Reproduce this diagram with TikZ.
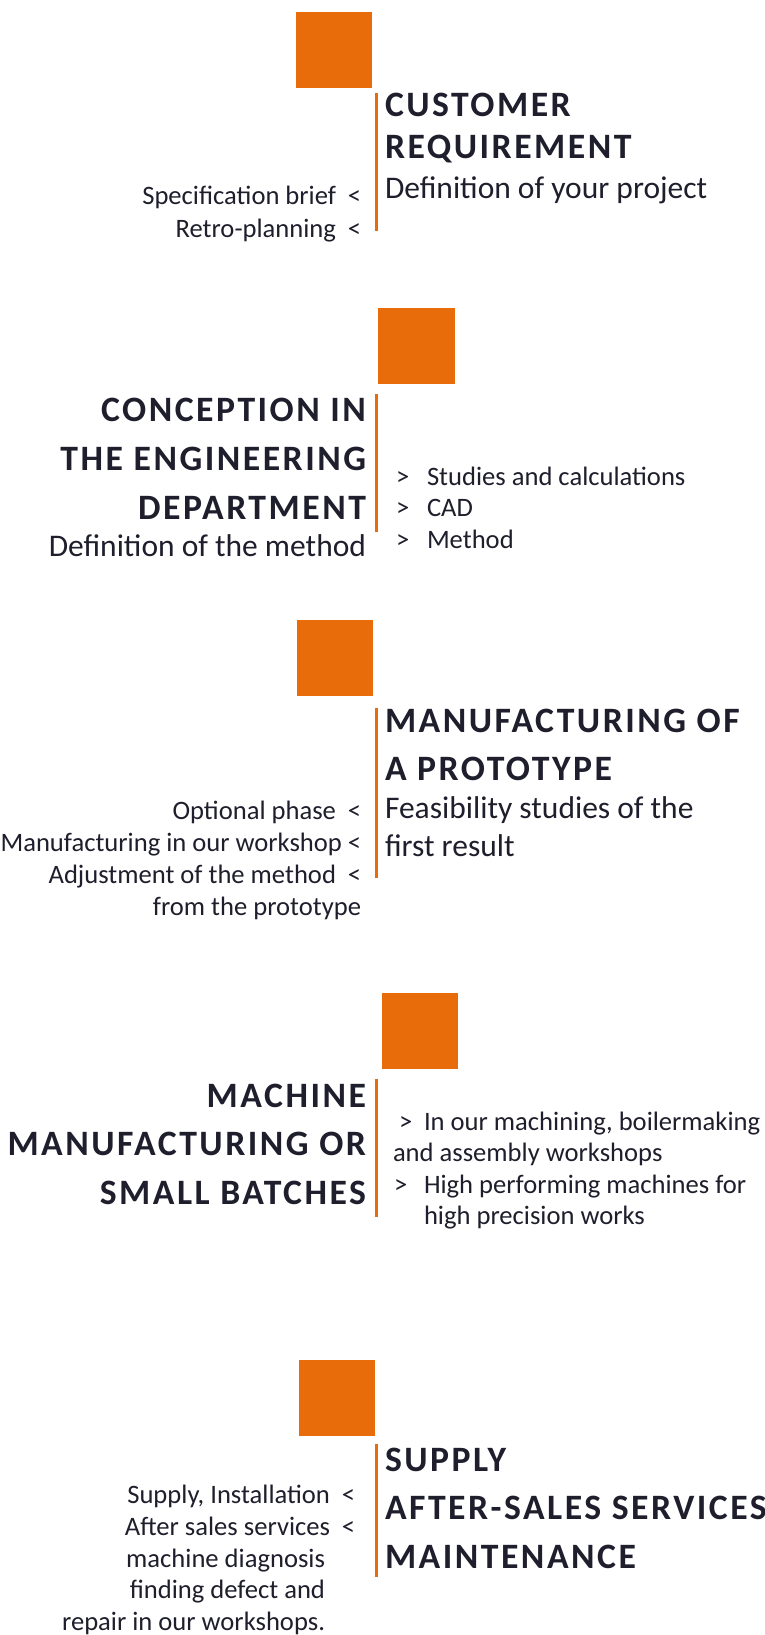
\documentclass[tikz,border=0pt]{standalone}
\usepackage{fontspec}
\setmainfont{Carlito}
\newfontfamily\headfam{Carlito}[LetterSpace=7]
\definecolor{accent}{RGB}{233,108,10}
\definecolor{ink}{RGB}{30,30,44}
\begin{document}
\begin{tikzpicture}[x=1pt,y=-1pt,
  every node/.style={inner sep=0pt,outer sep=0pt,text=ink},
  head/.style={font=\headfam\bfseries\fontsize{35.7}{42}\selectfont},
  sub/.style={font=\fontsize{31.5}{37}\selectfont},
  small/.style={font=\fontsize{26.6}{32}\selectfont},
  blockbox/.style={fill=accent,draw=none},
  bar/.style={draw=accent,line width=2.5pt}]
\useasboundingbox (0,0) rectangle (764,1635);

% ---------- 1 ----------
\fill[blockbox] (296,12) rectangle (372,88);
\coordinate (b1t) at (376.5,93); \coordinate (b1b) at (376.5,231);
\draw[bar] (b1t) -- (b1b);
\node[head,anchor=base west] (h1a) at (385,117) {CUSTOMER};
\node[head,anchor=base west] (h1b) at (385,158) {REQUIREMENT};
\node[sub,anchor=base west] (s1) at (385,198) {Definition of your project};
\node[small,anchor=base east] (l1a) at (336,204) {Specification brief};
\node[small,anchor=base east] (l1b) at (336,237) {Retro-planning};
\node[small,anchor=base east] (m1a) at (361,204) {<};
\node[small,anchor=base east] (m1b) at (361,237) {<};

% ---------- 2 ----------
\fill[blockbox] (378,308) rectangle (455,384);
\coordinate (b2t) at (376.5,394); \coordinate (b2b) at (376.5,532);
\draw[bar] (b2t) -- (b2b);
\node[head,anchor=base east] (h2a) at (366,421) {CONCEPTION IN};
\node[head,anchor=base east] (h2b) at (366,470) {THE ENGINEERING};
\node[head,anchor=base east] (h2c) at (366,519) {DEPARTMENT};
\node[sub,anchor=base east] (s2) at (366,556) {Definition of the method};
\node[small,anchor=base west] (m2a) at (396,485) {>};
\node[small,anchor=base west] (m2b) at (396,516) {>};
\node[small,anchor=base west] (m2c) at (396,548) {>};
\node[small,anchor=base west] (r2a) at (427,485) {Studies and calculations};
\node[small,anchor=base west] (r2b) at (427,516) {CAD};
\node[small,anchor=base west] (r2c) at (427,548) {Method};

% ---------- 3 ----------
\fill[blockbox] (297,620) rectangle (373,696);
\coordinate (b3t) at (376.5,708); \coordinate (b3b) at (376.5,878);
\draw[bar] (b3t) -- (b3b);
\node[head,anchor=base west] (h3a) at (385,732) {MANUFACTURING OF};
\node[head,anchor=base west] (h3b) at (385,780) {A PROTOTYPE};
\node[sub,anchor=base west] (s3a) at (385,818) {Feasibility studies of the};
\node[sub,anchor=base west] (s3b) at (385,856) {first result};
\node[small,anchor=base east] (l3a) at (336,819) {Optional phase};
\node[small,anchor=base east] (l3b) at (342,851) {Manufacturing in our workshop};
\node[small,anchor=base east] (l3c) at (336,883) {Adjustment of the method};
\node[small,anchor=base east] (l3d) at (361,915) {from the prototype};
\node[small,anchor=base east] (m3a) at (361,819) {<};
\node[small,anchor=base east] (m3b) at (361,851) {<};
\node[small,anchor=base east] (m3c) at (361,883) {<};

% ---------- 4 ----------
\fill[blockbox] (382,993) rectangle (458,1069);
\coordinate (b4t) at (376.5,1079); \coordinate (b4b) at (376.5,1217);
\draw[bar] (b4t) -- (b4b);
\node[head,anchor=base east] (h4a) at (366,1107) {MACHINE};
\node[head,anchor=base east] (h4b) at (366,1155) {MANUFACTURING OR};
\node[head,anchor=base east] (h4c) at (366,1204) {SMALL BATCHES};
\node[small,anchor=base west] (m4a) at (399,1130) {>};
\node[small,anchor=base west] (r4a) at (424,1130) {In our machining, boilermaking};
\node[small,anchor=base west] (r4b) at (393,1161) {and assembly workshops};
\node[small,anchor=base west] (m4b) at (394,1193) {>};
\node[small,anchor=base west] (r4c) at (424,1193) {High performing machines for};
\node[small,anchor=base west] (r4d) at (424,1224) {high precision works};

% ---------- 5 ----------
\fill[blockbox] (299,1360) rectangle (375,1436);
\coordinate (b5t) at (376.5,1444); \coordinate (b5b) at (376.5,1577);
\draw[bar] (b5t) -- (b5b);
\node[head,anchor=base west] (h5a) at (385,1471) {SUPPLY};
\node[head,anchor=base west] (h5b) at (385,1519) {AFTER-SALES SERVICES};
\node[head,anchor=base west] (h5c) at (385,1568) {MAINTENANCE};
\node[small,anchor=base east] (l5a) at (330,1503) {Supply, Installation};
\node[small,anchor=base east] (l5b) at (330,1535) {After sales services};
\node[small,anchor=base east] (l5c) at (325,1567) {machine diagnosis};
\node[small,anchor=base east] (l5d) at (325,1598) {finding defect and};
\node[small,anchor=base east] (l5e) at (325,1630) {repair in our workshops.};
\node[small,anchor=base east] (m5a) at (355,1503) {<};
\node[small,anchor=base east] (m5b) at (355,1535) {<};
\end{tikzpicture}
\end{document}
